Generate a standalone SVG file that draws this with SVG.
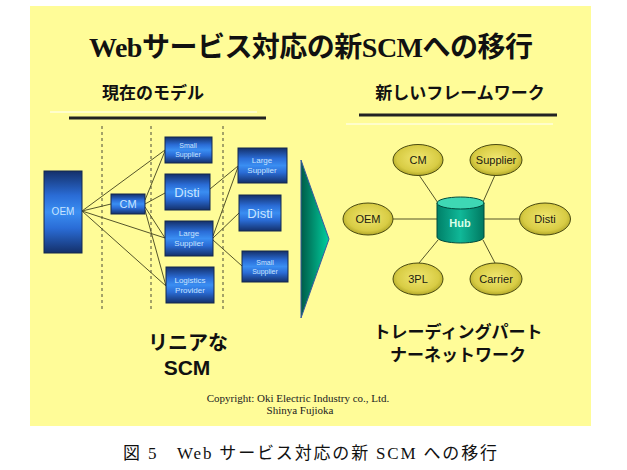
<svg xmlns="http://www.w3.org/2000/svg" width="627" height="470" viewBox="0 0 627 470">
<style>
.bx{stroke:#14284c;stroke-width:1;fill:url(#blue)}
.bt{font-family:"Liberation Sans",Arial,sans-serif;fill:#c8e4ff;text-anchor:middle}
.el{fill:url(#olive);stroke:#4a4a10;stroke-width:1}
.et{font-family:"Liberation Sans",Arial,sans-serif;font-size:11px;fill:#202010;text-anchor:middle}
.ln{stroke:#55552a;stroke-width:1;fill:none}
.dash{stroke:#4a4a3a;stroke-width:1;stroke-dasharray:3,3}
.jp{font-family:"Noto Sans CJK JP",sans-serif;font-weight:bold;fill:#111;text-anchor:middle}
</style>
<defs>
<linearGradient id="blue" x1="0" y1="0" x2="0" y2="1">
<stop offset="0" stop-color="#14306a"/>
<stop offset="0.3" stop-color="#2a6cd6"/>
<stop offset="0.5" stop-color="#3a8ef2"/>
<stop offset="0.7" stop-color="#2a6cd6"/>
<stop offset="1" stop-color="#14306a"/>
</linearGradient>
<radialGradient id="olive" cx="0.5" cy="0.45" r="0.6">
<stop offset="0" stop-color="#f0e670"/>
<stop offset="0.7" stop-color="#d8cc44"/>
<stop offset="1" stop-color="#a39a1e"/>
</radialGradient>
<linearGradient id="tri" x1="0" y1="0" x2="1" y2="0">
<stop offset="0" stop-color="#005c48"/>
<stop offset="1" stop-color="#00d0a0"/>
</linearGradient>
<linearGradient id="cyl" x1="0" y1="0" x2="1" y2="0">
<stop offset="0" stop-color="#008068"/>
<stop offset="0.5" stop-color="#10b898"/>
<stop offset="1" stop-color="#007860"/>
</linearGradient>
</defs>
<rect width="627" height="470" fill="#ffffff"/>
<rect x="30" y="6" width="561" height="420" fill="#fffc98"/>
<text x="311" y="57" font-family="'Liberation Serif','Noto Sans CJK JP',serif" font-weight="bold" font-size="28" text-anchor="middle" textLength="444" fill="#111">Webサービス対応の新SCMへの移行</text>
<text class="jp" x="153" y="99" font-size="17">現在のモデル</text>
<line x1="50" y1="112" x2="257" y2="112" stroke="#ffffff" stroke-width="1"/>
<line x1="69" y1="118" x2="266" y2="118" stroke="#222" stroke-width="3"/>
<text class="jp" x="460" y="99" font-size="17">新しいフレームワーク</text>
<line x1="359" y1="115" x2="557" y2="115" stroke="#222" stroke-width="3"/>
<line x1="346" y1="124" x2="553" y2="124" stroke="#ffffff" stroke-width="1"/>
<g id="dividers">
<line class="dash" x1="102" y1="126" x2="102" y2="310"/>
<line class="dash" x1="151" y1="126" x2="151" y2="310"/>
<line class="dash" x1="223" y1="126" x2="223" y2="310"/>
</g>
<g id="connectors">
<line class="ln" x1="82" y1="211" x2="165" y2="150"/>
<line class="ln" x1="82" y1="211" x2="111" y2="204"/>
<line class="ln" x1="82" y1="211" x2="165" y2="238"/>
<line class="ln" x1="82" y1="211" x2="166" y2="286"/>
<line class="ln" x1="145" y1="200" x2="165" y2="151"/>
<line class="ln" x1="145" y1="204" x2="165" y2="193"/>
<line class="ln" x1="145" y1="207" x2="165" y2="238"/>
<line class="ln" x1="145" y1="210" x2="166" y2="286"/>
<line class="ln" x1="210" y1="189" x2="238" y2="166"/>
<line class="ln" x1="213" y1="236" x2="238" y2="167"/>
<line class="ln" x1="213" y1="238" x2="239" y2="213"/>
<line class="ln" x1="213" y1="240" x2="242" y2="266"/>
<line class="ln" x1="419" y1="175" x2="438" y2="203"/>
<line class="ln" x1="495" y1="175" x2="483" y2="202"/>
<line class="ln" x1="393" y1="219" x2="437" y2="219"/>
<line class="ln" x1="519" y1="219" x2="484" y2="219"/>
<line class="ln" x1="419" y1="263" x2="438" y2="240"/>
<line class="ln" x1="495" y1="263" x2="483" y2="240"/>
</g>
<g id="oem-box"><rect class="bx" x="44" y="171" width="38" height="82"/><text class="bt" x="63" y="215" font-size="10">OEM</text></g>
<g id="cm-box"><rect class="bx" x="111" y="194" width="34" height="20"/><text class="bt" x="128" y="208" font-size="11">CM</text></g>
<g id="small-supplier-1"><rect class="bx" x="165" y="137" width="47" height="26"/><text class="bt" x="188" y="148" font-size="7">Small</text><text class="bt" x="188" y="157" font-size="7">Supplier</text></g>
<g id="disti-1"><rect class="bx" x="165" y="174" width="45" height="36"/><text class="bt" x="187" y="197" font-size="13">Disti</text></g>
<g id="large-supplier-1"><rect class="bx" x="165" y="221" width="48" height="35"/><text class="bt" x="189" y="236" font-size="8">Large</text><text class="bt" x="189" y="246" font-size="8">Supplier</text></g>
<g id="logistics"><rect class="bx" x="166" y="267" width="48" height="36"/><text class="bt" x="190" y="283" font-size="8">Logistics</text><text class="bt" x="190" y="293" font-size="8">Provider</text></g>
<g id="large-supplier-2"><rect class="bx" x="238" y="148" width="49" height="35"/><text class="bt" x="262" y="163" font-size="8">Large</text><text class="bt" x="262" y="173" font-size="8">Supplier</text></g>
<g id="disti-2"><rect class="bx" x="239" y="195" width="42" height="36"/><text class="bt" x="260" y="218" font-size="13">Disti</text></g>
<g id="small-supplier-2"><rect class="bx" x="242" y="251" width="46" height="31"/><text class="bt" x="265" y="265" font-size="7">Small</text><text class="bt" x="265" y="274" font-size="7">Supplier</text></g>
<g id="arrow"><polygon points="301,160 329,239 301,318" fill="url(#tri)" stroke="#3a5aa0" stroke-width="1"/></g>
<g id="cm-node"><ellipse class="el" cx="418" cy="160" rx="25" ry="15.5"/><text class="et" x="418" y="164">CM</text></g>
<g id="supplier-node"><ellipse class="el" cx="496" cy="160" rx="26" ry="15.5"/><text class="et" x="496" y="164">Supplier</text></g>
<g id="oem-node"><ellipse class="el" cx="368" cy="219" rx="25" ry="16"/><text class="et" x="368" y="223">OEM</text></g>
<g id="disti-node"><ellipse class="el" cx="545" cy="219" rx="25.5" ry="16"/><text class="et" x="545" y="223">Disti</text></g>
<g id="3pl-node"><ellipse class="el" cx="418" cy="279" rx="25" ry="16"/><text class="et" x="418" y="283">3PL</text></g>
<g id="carrier-node"><ellipse class="el" cx="496" cy="279" rx="26" ry="16"/><text class="et" x="496" y="283">Carrier</text></g>
<g id="hub">
<path d="M437,203 L437,237 A23.5,6 0 0 0 484,237 L484,203 Z" fill="url(#cyl)" stroke="#004a3c" stroke-width="1"/>
<ellipse cx="460.5" cy="203" rx="23.5" ry="6" fill="#3ed8b4" stroke="#004a3c" stroke-width="1"/>
<text x="460" y="227" font-family="'Liberation Sans',Arial,sans-serif" font-size="11" font-weight="bold" fill="#d8ffe8" text-anchor="middle">Hub</text>
</g>
<text class="jp" x="188" y="350" font-size="20">リニアな</text>
<text x="187" y="375" font-family="'Liberation Sans',Arial,sans-serif" font-weight="bold" font-size="21" fill="#111" text-anchor="middle">SCM</text>
<text class="jp" x="458" y="338" font-size="17">トレーディングパート</text>
<text class="jp" x="458" y="361" font-size="17">ナーネットワーク</text>
<text x="298" y="402" font-family="'Liberation Serif',serif" font-size="11" fill="#222" text-anchor="middle">Copyright: Oki Electric Industry co., Ltd.</text>
<text x="300" y="414" font-family="'Liberation Serif',serif" font-size="11" fill="#222" text-anchor="middle">Shinya Fujioka</text>
<text x="123" y="459" font-family="'Liberation Serif','Noto Sans CJK JP',serif" font-size="17" fill="#111" textLength="374">図 5　Web サービス対応の新 SCM への移行</text>
</svg>
